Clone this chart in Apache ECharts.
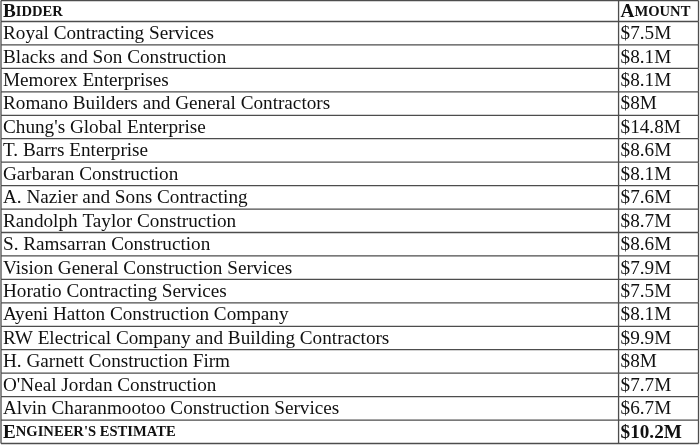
<!DOCTYPE html>
<html><head><meta charset="utf-8">
<script src="https://cdn.jsdelivr.net/npm/echarts@6/dist/echarts.min.js"></script>
<style>html,body{margin:0;padding:0;background:#fff}#c{width:700px;height:447px}</style>
</head><body><div id="c"></div>
<script>
var headerBidder = ['B', 'IDDER'];
var headerAmount = ['A', 'MOUNT'];
var bidders = [
  'Royal Contracting Services',
  'Blacks and Son Construction',
  'Memorex Enterprises',
  'Romano Builders and General Contractors',
  "Chung's Global Enterprise",
  'T. Barrs Enterprise',
  'Garbaran Construction',
  'A. Nazier and Sons Contracting',
  'Randolph Taylor Construction',
  'S. Ramsarran Construction',
  'Vision General Construction Services',
  'Horatio Contracting Services',
  'Ayeni Hatton Construction Company',
  'RW Electrical Company and Building Contractors',
  'H. Garnett Construction Firm',
  "O'Neal Jordan Construction",
  'Alvin Charanmootoo Construction Services'
];
var amounts = [7.5, 8.1, 8.1, 8, 14.8, 8.6, 8.1, 7.6, 8.7, 8.6, 7.9, 7.5, 8.1, 9.9, 8, 7.7, 6.7];
var footerLabel = ['E', "NGINEER'S ESTIMATE"];
var footerAmount = 10.2;

var FONT = 'Liberation Serif';
var FS = 19.2;
var SC = 14.6;
var rowCats = bidders.concat(['__footer']);
var rows = bidders.map(function (b, i) { return [0, i, b, amounts[i]]; });
rows.push([0, bidders.length, '__footer', footerAmount]);

function fmt(v) { return '$' + v + 'M'; }

var LINE = '#4d4d4d';
var TXT = '#111';
var SPLIT = 0.8854;
var HEADER_H = 21;

function smallCaps(parts) {
  return {
    text: '{a|' + parts[0] + '}{b|' + parts[1] + '}',
    rich: { a: { font: 'bold ' + FS + 'px "' + FONT + '"', fill: TXT }, b: { font: 'bold ' + SC + 'px "' + FONT + '"', fill: TXT } },
    verticalAlign: 'middle', align: 'left'
  };
}

function renderItem(params, api) {
  var idx = api.value(1);
  var c = api.coord([0, idx]);
  var sz = api.size([1, 1]);
  var bandH = sz[1];
  var cs = params.coordSys;
  var x0 = cs.x, w = cs.width;
  var xs = x0 + w * SPLIT;
  var top = c[1] - bandH / 2;
  var cy = c[1] + 0.8;
  var children = [];
  var isFooter = idx === bidders.length;
  var lineStyle = { stroke: LINE, lineWidth: 1.3 };
  children.push({ type: 'line', shape: { x1: x0, y1: top + bandH, x2: x0 + w, y2: top + bandH }, style: lineStyle });
  children.push({ type: 'line', shape: { x1: x0, y1: top, x2: x0, y2: top + bandH }, style: lineStyle });
  children.push({ type: 'line', shape: { x1: xs, y1: top, x2: xs, y2: top + bandH }, style: lineStyle });
  children.push({ type: 'line', shape: { x1: x0 + w, y1: top, x2: x0 + w, y2: top + bandH }, style: lineStyle });
  if (!isFooter) {
    children.push({ type: 'text', x: x0 + 2, y: cy, style: { text: bidders[idx], font: FS + 'px "' + FONT + '"', fill: TXT, verticalAlign: 'middle', align: 'left' } });
    children.push({ type: 'text', x: xs + 2, y: cy, style: { text: fmt(amounts[idx]), font: FS + 'px "' + FONT + '"', fill: TXT, verticalAlign: 'middle', align: 'left' } });
  } else {
    children.push({ type: 'text', x: x0 + 2, y: cy, style: smallCaps(footerLabel) });
    children.push({ type: 'text', x: xs + 2, y: cy, style: { text: fmt(footerAmount), font: 'bold ' + FS + 'px "' + FONT + '"', fill: TXT, verticalAlign: 'middle', align: 'left' } });
  }
  if (idx === 0) {
    var ht = top - HEADER_H;
    children.push({ type: 'line', shape: { x1: x0, y1: ht, x2: x0 + w, y2: ht }, style: lineStyle });
    children.push({ type: 'line', shape: { x1: x0, y1: top, x2: x0 + w, y2: top }, style: lineStyle });
    children.push({ type: 'line', shape: { x1: x0, y1: ht, x2: x0, y2: top }, style: lineStyle });
    children.push({ type: 'line', shape: { x1: xs, y1: ht, x2: xs, y2: top }, style: lineStyle });
    children.push({ type: 'line', shape: { x1: x0 + w, y1: ht, x2: x0 + w, y2: top }, style: lineStyle });
    var hy = ht + HEADER_H / 2 + 1.2;
    children.push({ type: 'text', x: x0 + 2, y: hy, style: smallCaps(headerBidder) });
    children.push({ type: 'text', x: xs + 2, y: hy, style: smallCaps(headerAmount) });
  }
  return { type: 'group', children: children };
}

var chart = echarts.init(document.getElementById('c'), null, { renderer: 'canvas' });
chart.setOption({
  animation: false,
  grid: { left: 1, right: 1.5, top: 21.5, bottom: 3.5 },
  xAxis: { type: 'value', min: 0, max: 1, show: false },
  yAxis: { type: 'category', data: rowCats, inverse: true, show: false },
  series: [{ type: 'custom', renderItem: renderItem, data: rows, encode: { x: 0, y: 1 }, clip: false }]
});
</script></body></html>
